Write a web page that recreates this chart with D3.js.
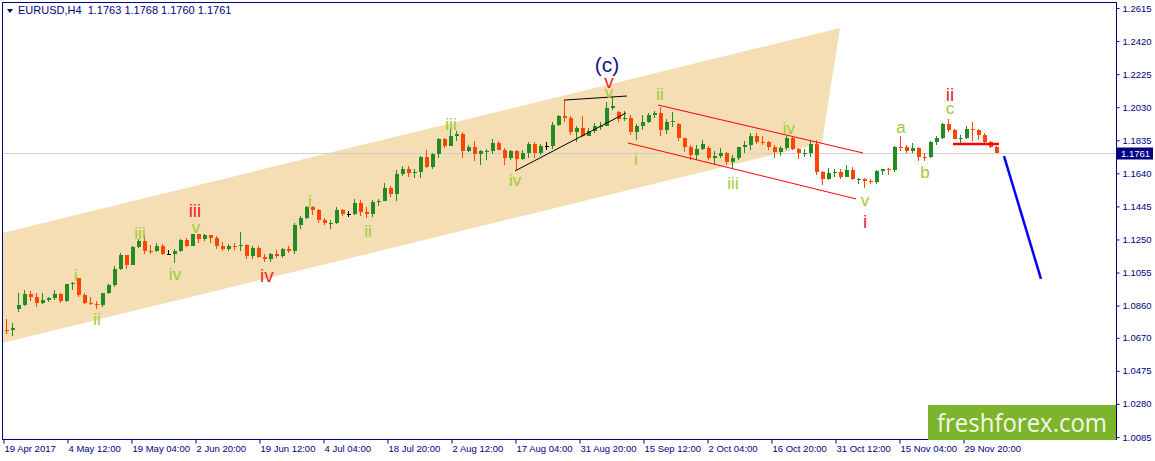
<!DOCTYPE html>
<html>
<head>
<meta charset="utf-8">
<script src="https://cdn.jsdelivr.net/npm/d3@7"></script>
<style>
  html, body { margin: 0; padding: 0; background: #ffffff; }
  svg { display: block; font-family: "Liberation Sans", Arial, sans-serif; }
</style>
</head>
<body>
<div id="chart"></div>
<script>
var opens = [
  1.0730, 1.0718, 1.0715, 1.0840, 1.0862, 1.0930, 1.0908, 1.0873, 1.0894, 1.0902,
  1.0930, 1.0885, 1.0985, 1.1020, 1.0925, 1.0875, 1.0872, 1.0862, 1.0932, 1.0980,
  1.1075, 1.1160, 1.1102, 1.1207, 1.1243, 1.1183, 1.1180, 1.1211, 1.1165, 1.1165,
  1.1183, 1.1245, 1.1214, 1.1283, 1.1252, 1.1275, 1.1260, 1.1212, 1.1196, 1.1211,
  1.1210, 1.1215, 1.1150, 1.1197, 1.1146, 1.1132, 1.1166, 1.1150, 1.1194, 1.1181,
  1.1338, 1.1375, 1.1442, 1.1426, 1.1362, 1.1349, 1.1350, 1.1424, 1.1400, 1.1400,
  1.1465, 1.1414, 1.1398, 1.1470, 1.1478, 1.1556, 1.1517, 1.1635, 1.1666, 1.1642,
  1.1646, 1.1735, 1.1676, 1.1754, 1.1842, 1.1801, 1.1859, 1.1870, 1.1773, 1.1793,
  1.1752, 1.1770, 1.1772, 1.1820, 1.1780, 1.1731, 1.1770, 1.1726, 1.1760, 1.1814,
  1.1761, 1.1800, 1.1800, 1.1924, 1.1978, 1.1968, 1.1885, 1.1909, 1.1860, 1.1888,
  1.1917, 1.1918, 1.2025, 1.2000, 1.1962, 1.1966, 1.1885, 1.1918, 1.1943, 1.1985,
  1.1996, 1.1893, 1.1941, 1.1930, 1.1846, 1.1793, 1.1749, 1.1781, 1.1790, 1.1733,
  1.1743, 1.1762, 1.1708, 1.1731, 1.1795, 1.1807, 1.1861, 1.1823, 1.1822, 1.1796,
  1.1765, 1.1787, 1.1848, 1.1785, 1.1759, 1.1761, 1.1814, 1.1649, 1.1607, 1.1643,
  1.1645, 1.1619, 1.1657, 1.1608, 1.1609, 1.1594, 1.1591, 1.1653, 1.1665, 1.1662,
  1.1796, 1.1793, 1.1770, 1.1791, 1.1738, 1.1735, 1.1823, 1.1851, 1.1933, 1.1895,
  1.1845, 1.1846, 1.1904, 1.1894, 1.1864, 1.1825, 1.1796
];
var highs = [
  1.0750, 1.0778, 1.0760, 1.0937, 1.0950, 1.0945, 1.0935, 1.0934, 1.0910, 1.0951,
  1.0937, 1.0990, 1.0998, 1.1023, 1.0935, 1.0908, 1.0890, 1.0933, 1.0987, 1.1094,
  1.1172, 1.1160, 1.1212, 1.1250, 1.1268, 1.1219, 1.1230, 1.1224, 1.1185, 1.1196,
  1.1250, 1.1257, 1.1285, 1.1285, 1.1283, 1.1275, 1.1270, 1.1235, 1.1225, 1.1230,
  1.1296, 1.1225, 1.1212, 1.1212, 1.1166, 1.1170, 1.1185, 1.1200, 1.1210, 1.1350,
  1.1389, 1.1445, 1.1446, 1.1430, 1.1375, 1.1365, 1.1440, 1.1431, 1.1420, 1.1490,
  1.1480, 1.1440, 1.1481, 1.1490, 1.1583, 1.1565, 1.1658, 1.1683, 1.1685, 1.1668,
  1.1740, 1.1777, 1.1760, 1.1846, 1.1846, 1.1910, 1.1890, 1.1882, 1.1810, 1.1830,
  1.1775, 1.1785, 1.1845, 1.1830, 1.1789, 1.1780, 1.1780, 1.1775, 1.1823, 1.1825,
  1.1815, 1.1825, 1.1940, 1.1985, 1.2070, 1.1980, 1.1920, 1.1980, 1.1905, 1.1938,
  1.1940, 1.2058, 1.2092, 1.2010, 1.2005, 1.1985, 1.1930, 1.1985, 1.1995, 1.2005,
  1.2034, 1.1960, 1.2002, 1.1935, 1.1850, 1.1807, 1.1808, 1.1834, 1.1800, 1.1774,
  1.1790, 1.1767, 1.1750, 1.1795, 1.1830, 1.1875, 1.1880, 1.1860, 1.1832, 1.1808,
  1.1800, 1.1860, 1.1855, 1.1790, 1.1785, 1.1830, 1.1837, 1.1655, 1.1670, 1.1665,
  1.1665, 1.1688, 1.1677, 1.1610, 1.1615, 1.1605, 1.1660, 1.1668, 1.1670, 1.1800,
  1.1861, 1.1805, 1.1821, 1.1795, 1.1760, 1.1830, 1.1860, 1.1935, 1.1961, 1.1900,
  1.1865, 1.1920, 1.1940, 1.1900, 1.1880, 1.1830, 1.1800
];
var lows = [
  1.0700, 1.0695, 1.0680, 1.0821, 1.0855, 1.0885, 1.0850, 1.0867, 1.0880, 1.0892,
  1.0874, 1.0880, 1.0950, 1.0910, 1.0870, 1.0862, 1.0839, 1.0849, 1.0927, 1.0968,
  1.1070, 1.1075, 1.1102, 1.1200, 1.1166, 1.1166, 1.1177, 1.1160, 1.1158, 1.1110,
  1.1175, 1.1207, 1.1210, 1.1230, 1.1240, 1.1230, 1.1195, 1.1181, 1.1180, 1.1188,
  1.1180, 1.1132, 1.1133, 1.1143, 1.1119, 1.1120, 1.1140, 1.1140, 1.1170, 1.1165,
  1.1310, 1.1369, 1.1393, 1.1350, 1.1338, 1.1313, 1.1342, 1.1390, 1.1380, 1.1394,
  1.1391, 1.1374, 1.1380, 1.1450, 1.1477, 1.1500, 1.1479, 1.1625, 1.1620, 1.1612,
  1.1612, 1.1670, 1.1665, 1.1730, 1.1790, 1.1800, 1.1830, 1.1729, 1.1765, 1.1712,
  1.1689, 1.1720, 1.1755, 1.1775, 1.1688, 1.1716, 1.1662, 1.1720, 1.1732, 1.1730,
  1.1751, 1.1776, 1.1781, 1.1920, 1.1940, 1.1868, 1.1823, 1.1855, 1.1860, 1.1880,
  1.1895, 1.1918, 1.2015, 1.1945, 1.1950, 1.1868, 1.1837, 1.1895, 1.1935, 1.1965,
  1.1861, 1.1870, 1.1915, 1.1833, 1.1766, 1.1717, 1.1720, 1.1780, 1.1717, 1.1696,
  1.1730, 1.1690, 1.1669, 1.1717, 1.1760, 1.1780, 1.1815, 1.1805, 1.1780, 1.1730,
  1.1740, 1.1775, 1.1775, 1.1725, 1.1735, 1.1735, 1.1630, 1.1574, 1.1600, 1.1620,
  1.1605, 1.1618, 1.1600, 1.1575, 1.1554, 1.1576, 1.1580, 1.1630, 1.1630, 1.1650,
  1.1770, 1.1760, 1.1760, 1.1714, 1.1715, 1.1730, 1.1810, 1.1845, 1.1885, 1.1840,
  1.1812, 1.1840, 1.1830, 1.1835, 1.1812, 1.1790, 1.1758
];
var closes = [
  1.0718, 1.0715, 1.0725, 1.0862, 1.0930, 1.0908, 1.0873, 1.0894, 1.0902, 1.0930,
  1.0885, 1.0985, 1.0996, 1.0925, 1.0875, 1.0872, 1.0862, 1.0932, 1.0980, 1.1075,
  1.1160, 1.1102, 1.1207, 1.1243, 1.1183, 1.1180, 1.1211, 1.1165, 1.1165, 1.1183,
  1.1245, 1.1214, 1.1283, 1.1252, 1.1275, 1.1260, 1.1212, 1.1196, 1.1211, 1.1210,
  1.1215, 1.1150, 1.1197, 1.1146, 1.1132, 1.1166, 1.1150, 1.1194, 1.1181, 1.1338,
  1.1375, 1.1442, 1.1426, 1.1362, 1.1349, 1.1350, 1.1424, 1.1400, 1.1400, 1.1465,
  1.1414, 1.1398, 1.1470, 1.1478, 1.1556, 1.1517, 1.1635, 1.1666, 1.1642, 1.1646,
  1.1735, 1.1676, 1.1754, 1.1842, 1.1801, 1.1859, 1.1870, 1.1773, 1.1793, 1.1752,
  1.1770, 1.1772, 1.1820, 1.1780, 1.1731, 1.1770, 1.1726, 1.1760, 1.1814, 1.1761,
  1.1800, 1.1800, 1.1924, 1.1978, 1.1968, 1.1885, 1.1909, 1.1860, 1.1888, 1.1917,
  1.1918, 1.2025, 1.2035, 1.1962, 1.1966, 1.1885, 1.1918, 1.1943, 1.1985, 1.1996,
  1.1893, 1.1941, 1.1949, 1.1846, 1.1793, 1.1749, 1.1781, 1.1813, 1.1733, 1.1743,
  1.1762, 1.1708, 1.1731, 1.1795, 1.1807, 1.1861, 1.1823, 1.1822, 1.1796, 1.1765,
  1.1787, 1.1848, 1.1785, 1.1759, 1.1761, 1.1814, 1.1649, 1.1607, 1.1643, 1.1645,
  1.1619, 1.1657, 1.1608, 1.1609, 1.1594, 1.1591, 1.1653, 1.1665, 1.1662, 1.1796,
  1.1793, 1.1770, 1.1791, 1.1738, 1.1735, 1.1823, 1.1851, 1.1933, 1.1895, 1.1845,
  1.1846, 1.1904, 1.1894, 1.1864, 1.1825, 1.1796, 1.1761
];

// axis ticks
var priceTicks = [1.2615, 1.2420, 1.2225, 1.2030, 1.1835, 1.1640, 1.1445, 1.1250,
                  1.1055, 1.0860, 1.0670, 1.0475, 1.0280, 1.0085];
// time ticks in H4 bars counted from 19 Apr 00:00
var timeTickBars = [5, 69, 133, 197, 261, 325, 389, 453, 517, 581, 645, 709, 773, 837, 901, 965];
var timeTickLabels = ['19 Apr 2017', '4 May 12:00', '19 May 04:00', '2 Jun 20:00', '19 Jun 12:00',
  '4 Jul 04:00', '18 Jul 20:00', '2 Aug 12:00', '17 Aug 04:00', '31 Aug 20:00', '15 Sep 12:00',
  '2 Oct 04:00', '16 Oct 20:00', '31 Oct 12:00', '15 Nov 04:00', '29 Nov 20:00'];

var headerText = 'EURUSD,H4  1.1763 1.1768 1.1760 1.1761';

// drawn objects, in [day, price]
var bandTop = [[0.67, 1.1288], [140.33, 1.2497]];
var bandBottom = [[0.67, 1.0639], [137.33, 1.1819]];
var wedgeTop = [[94.33, 1.2072], [104.83, 1.2096]];
var wedgeBottom = [[86.17, 1.1654], [104.67, 1.1996]];
var channelTop = [[110.0, 1.2043], [144.17, 1.1760]];
var channelBottom = [[105.0, 1.1819], [143.0, 1.1489]];
var neckline = [[159.17, 1.1813], [166.83, 1.1813]];
var forecast = [[167.67, 1.1742], [173.83, 1.1017]];

// wave labels: text, day, price
var minorWaves = [
  ['i', 13.0, 1.1040], ['ii', 16.5, 1.0781], ['iii', 23.67, 1.1288], ['iv', 29.5, 1.1046],
  ['v', 33.0, 1.1312], ['i', 52.0, 1.1477], ['ii', 61.67, 1.1300], ['iii', 75.5, 1.1931],
  ['iv', 86.17, 1.1601], ['v', 101.83, 1.2111], ['ii', 110.33, 1.2111], ['i', 106.33, 1.1725],
  ['iii', 122.5, 1.1583], ['iv', 131.83, 1.1907], ['v', 144.5, 1.1474], ['a', 150.5, 1.1901],
  ['b', 154.5, 1.1648], ['c', 158.67, 1.2013]
];
var majorWaves = [
  ['iii', 32.83, 1.1424], ['iv', 44.83, 1.1040], ['v', 101.83, 1.2173],
  ['i', 144.5, 1.1359], ['ii', 158.67, 1.2108]
];
var cycleWaves = [['(c)', 101.5, 1.2267]];

var svgWidth = 1155;
var svgHeight = 461;
var frame = {left: 2, top: 2, right: 1116, bottom: 439};

var svg = d3.select('#chart').append('svg')
  .attr('width', svgWidth)
  .attr('height', svgHeight);

// 6 px per trading day (1 px per H4 bar)
var x = d3.scaleLinear().domain([0, 100]).range([-2, 598]);
var y = d3.scaleLinear().domain([1.0085, 1.2615]).range([437, 8]);

svg.append('defs').append('clipPath').attr('id', 'plotClip')
  .append('rect')
  .attr('x', frame.left).attr('y', frame.top)
  .attr('width', frame.right - frame.left).attr('height', frame.bottom - frame.top);

var plot = svg.append('g').attr('clip-path', 'url(#plotClip)');

// rising channel (filled)
var bandPts = [bandTop[0], bandTop[1], bandBottom[1], bandBottom[0]];
plot.append('polygon')
  .attr('points', bandPts.map(function(p) { return x(p[0]) + ',' + y(p[1]); }).join(' '))
  .attr('fill', '#f5deb3');

// bid line
var lastClose = closes[closes.length - 1];
plot.append('line')
  .attr('x1', frame.left).attr('x2', frame.right)
  .attr('y1', Math.round(y(lastClose)) + 0.5).attr('y2', Math.round(y(lastClose)) + 0.5)
  .attr('stroke', '#d0d0d0').attr('stroke-width', 1);

// candles
var days = d3.range(closes.length);
var candles = plot.append('g').attr('shape-rendering', 'crispEdges');
function candleColor(d) {
  if (closes[d] > opens[d]) return '#228b22';
  if (closes[d] < opens[d]) return '#ff4500';
  return '#000000';
}
candles.selectAll('line.wick').data(days).enter().append('line')
  .attr('class', 'wick')
  .attr('x1', function(d) { return Math.round(x(d + 0.5)) - 0.5; })
  .attr('x2', function(d) { return Math.round(x(d + 0.5)) - 0.5; })
  .attr('y1', function(d) { return y(highs[d]); })
  .attr('y2', function(d) { return y(lows[d]); })
  .attr('stroke', candleColor).attr('stroke-width', 1);
candles.selectAll('rect.body').data(days).enter().append('rect')
  .attr('class', 'body')
  .attr('x', function(d) { return Math.round(x(d + 0.5)) - 2; })
  .attr('width', 4)
  .attr('y', function(d) { return y(Math.max(opens[d], closes[d])); })
  .attr('height', function(d) { return Math.max(1, Math.abs(y(opens[d]) - y(closes[d]))); })
  .attr('fill', candleColor);

// trend lines
function seg(pts, color, width) {
  plot.append('line')
    .attr('x1', x(pts[0][0])).attr('y1', y(pts[0][1]))
    .attr('x2', x(pts[1][0])).attr('y2', y(pts[1][1]))
    .attr('stroke', color).attr('stroke-width', width);
}
seg(wedgeTop, '#000000', 1);
seg(wedgeBottom, '#000000', 1);
seg(channelTop, '#ff0000', 1);
seg(channelBottom, '#ff0000', 1);
seg(neckline, '#ff0000', 2.5);
seg(forecast, '#0000ff', 2.5);

// wave labels
function waveText(list, color, size) {
  svg.append('g').selectAll('text').data(list).enter().append('text')
    .attr('x', function(d) { return x(d[1]); })
    .attr('y', function(d) {
      var k = /[ib]/.test(d[0]) ? 0.36 : 0.26;
      return y(d[2]) + k * size;
    })
    .attr('text-anchor', 'middle')
    .attr('font-size', size)
    .attr('fill', color)
    .text(function(d) { return d[0]; });
}
waveText(minorWaves, '#9acd32', 17);
waveText(majorWaves, '#f41e2c', 19);
waveText(cycleWaves, '#14148c', 21);

// axes
var navy = '#000080';
var yAxis = d3.axisRight(y).tickValues(priceTicks).tickSize(3).tickSizeOuter(0)
  .tickFormat(d3.format('.4f'));
var gy = svg.append('g').attr('transform', 'translate(' + (frame.right + 0.5) + ',0)').call(yAxis);

var xAxis = d3.axisBottom(x)
  .tickValues(timeTickBars.map(function(b) { return b / 6; }))
  .tickSize(4).tickSizeOuter(0)
  .tickFormat(function(d, i) { return timeTickLabels[i]; });
var gx = svg.append('g').attr('transform', 'translate(0,' + (frame.bottom + 0.5) + ')').call(xAxis);

[gx, gy].forEach(function(g) {
  g.select('.domain').remove();
  g.selectAll('line').attr('stroke', navy);
  g.selectAll('text').attr('fill', navy).attr('font-size', 9.5)
    .attr('font-family', '"Liberation Sans", Arial, sans-serif');
});
gx.selectAll('.tick line').attr('transform', 'translate(0.5,0)');
gx.selectAll('text').attr('text-anchor', 'start').attr('x', 1).attr('y', 6);

// frame
svg.append('rect')
  .attr('x', frame.left + 0.5).attr('y', frame.top + 0.5)
  .attr('width', frame.right - frame.left).attr('height', frame.bottom - frame.top)
  .attr('fill', 'none').attr('stroke', navy).attr('stroke-width', 1);

// current price tag
var tagY = Math.round(y(lastClose)) + 0.5;
svg.append('rect')
  .attr('x', frame.right + 1).attr('y', tagY - 6)
  .attr('width', 36).attr('height', 12)
  .attr('fill', navy);
svg.append('text')
  .attr('x', frame.right + 5).attr('y', tagY + 3.5)
  .attr('font-size', 9.5).attr('fill', '#ffffff')
  .text(d3.format('.4f')(lastClose));

// header
svg.append('polygon').attr('points', '7,9 13,9 10,13').attr('fill', navy);
svg.append('text')
  .attr('x', 18).attr('y', 14)
  .attr('font-size', 11).attr('fill', navy)
  .attr('xml:space', 'preserve')
  .style('white-space', 'pre')
  .text(headerText);

// logo
svg.append('rect')
  .attr('x', 928).attr('y', 405).attr('width', frame.right - 928).attr('height', 35)
  .attr('fill', '#7cb42c');
svg.append('text')
  .attr('x', 937).attr('y', 432)
  .attr('font-family', '"Open Sans", "Noto Sans", sans-serif')
  .attr('font-size', 26).attr('fill', '#f4f8e8')
  .attr('textLength', 170).attr('lengthAdjust', 'spacingAndGlyphs')
  .text('freshforex.com');
</script>
</body>
</html>
